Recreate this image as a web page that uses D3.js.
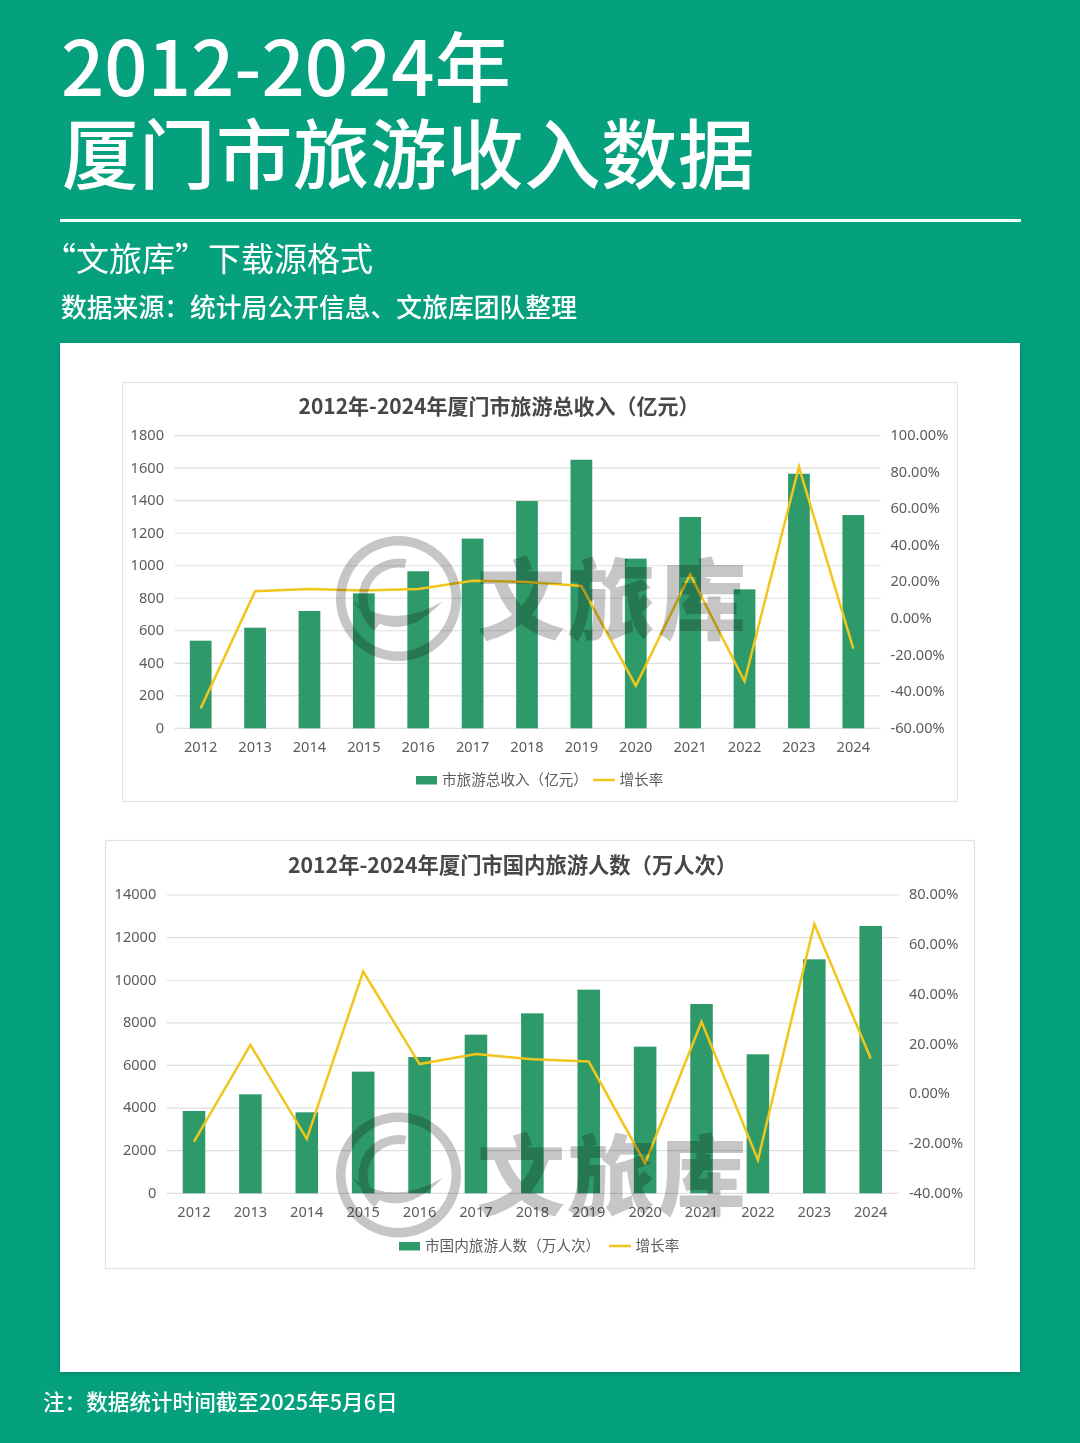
<!DOCTYPE html>
<html lang="zh">
<head>
<meta charset="utf-8">
<script src="https://cdn.jsdelivr.net/npm/d3@7/dist/d3.min.js"></script>
<style>
html,body{margin:0;padding:0;background:#05a07e;}
svg{display:block;font-family:"Noto Sans CJK SC","Noto Sans",sans-serif;}
</style>
</head>
<body>
<svg id="page" width="1080" height="1443"></svg>
<script>
const years = ["2012","2013","2014","2015","2016","2017","2018","2019","2020","2021","2022","2023","2024"];

const revenue = [539,619,722,830,966,1167,1398,1652,1044,1300,855,1566,1312];
const revenueGrowth = [-49.1,14.9,16.2,15.4,16.2,20.7,20.0,17.8,-36.7,24.2,-34.3,83.0,-16.4];
const revenueTicks = [0,200,400,600,800,1000,1200,1400,1600,1800];
const revenueGrowthTicks = [-60,-40,-20,0,20,40,60,80,100];

const visitors = [3864,4646,3801,5710,6398,7446,8447,9558,6883,8885,6523,10981,12545];
const visitorsGrowth = [-19.2,19.7,-18.1,49.2,12.0,16.0,13.9,13.0,-27.9,29.0,-26.6,68.3,14.2];
const visitorsTicks = [0,2000,4000,6000,8000,10000,12000,14000];
const visitorsGrowthTicks = [-40,-20,0,20,40,60,80];

const titleLines = ["2012-2024年","厦门市旅游收入数据"];
const subtitle = "“文旅库”下载源格式";
const sourceText = "数据来源：统计局公开信息、文旅库团队整理";
const noteText = "注：数据统计时间截至2025年5月6日";
const watermarkText = "文旅库";

const BAR = "#2f9a69", LINE = "#f1c51c", TEXT = "#5c5c5c", GRID = "#dfdfdf";
const svg = d3.select("#page");

svg.append("rect").attr("width",1080).attr("height",1443).attr("fill","#05a07e");

svg.selectAll(".t").data(titleLines).join("text")
  .attr("x",(d,i)=>i?62:61).attr("y",(d,i)=>i?183:96)
  .attr("font-size",(d,i)=>i?76.5:76).attr("letter-spacing",(d,i)=>i?0.5:0)
  .attr("font-weight",500).attr("fill","#fff").text(d=>d);

svg.append("rect").attr("x",60).attr("y",219).attr("width",961).attr("height",3).attr("fill","#f2fffb");
svg.append("text").attr("x",43).attr("y",271).attr("font-size",33).attr("font-weight",400).attr("fill","#fff").text(subtitle);
svg.append("text").attr("x",61).attr("y",317).attr("font-size",25.8).attr("font-weight",500).attr("fill","#fff").text(sourceText);
svg.append("text").attr("x",43).attr("y",1410).attr("font-size",21.6).attr("font-weight",500).attr("fill","#fff").text(noteText);

svg.append("rect").attr("x",60).attr("y",343).attr("width",960).attr("height",1029)
  .attr("fill","#fff").style("filter","drop-shadow(0 1px 2px rgba(0,60,50,.35))");

function drawChart(cfg){
  const g = svg.append("g");
  g.append("rect").attr("x",cfg.frame[0]+.5).attr("y",cfg.frame[1]+.5)
    .attr("width",cfg.frame[2]-cfg.frame[0]).attr("height",cfg.frame[3]-cfg.frame[1])
    .attr("fill","#fff").attr("stroke","#e2e2e2").attr("stroke-width",1.2);
  g.append("text").attr("x",cfg.titleX).attr("y",cfg.titleY).attr("text-anchor","middle")
    .attr("font-size",cfg.titleSize).attr("font-weight",700).attr("fill","#474747").text(cfg.title);

  const x = d3.scaleBand().domain(years).range([cfg.x0,cfg.x1]).paddingInner(0.6).paddingOuter(0.3);
  const y = d3.scaleLinear().domain(d3.extent(cfg.ticks)).range([cfg.yB,cfg.yT]);
  const y2 = d3.scaleLinear().domain(d3.extent(cfg.rTicks)).range([cfg.yB,cfg.yT]);

  g.append("g").selectAll("line").data(cfg.ticks).join("line")
    .attr("x1",cfg.x0+1).attr("x2",cfg.x1).attr("y1",d=>y(d)).attr("y2",d=>y(d))
    .attr("stroke",GRID).attr("stroke-width",1.2);

  const style = a => {
    a.select(".domain").remove();
    a.selectAll(".tick line").remove();
    a.selectAll("text").attr("font-size",14.6).attr("fill",TEXT).attr("font-family",'"Noto Sans","Noto Sans CJK SC",sans-serif');
  };
  g.append("g").attr("transform",`translate(${cfg.x0-9.5},-0.8)`)
    .call(d3.axisLeft(y).tickValues(cfg.ticks).tickFormat(d=>String(d)).tickSize(0).tickPadding(0)).call(style);
  g.append("g").attr("transform",`translate(${cfg.x1+10},-0.8)`)
    .call(d3.axisRight(y2).tickValues(cfg.rTicks).tickFormat(d=>d.toFixed(2)+"%").tickSize(0).tickPadding(0)).call(style);
  g.append("g").attr("transform",`translate(0,${cfg.yB+20})`)
    .call(d3.axisBottom(x).tickSize(0).tickPadding(0)).call(style)
    .selectAll("text").attr("dy","0.71em").attr("y",-7);

  g.append("g").selectAll("rect").data(cfg.values).join("rect")
    .attr("x",(d,i)=>x(years[i])).attr("width",x.bandwidth())
    .attr("y",d=>y(d)).attr("height",d=>y(0)-y(d)).attr("fill",BAR);

  const line = d3.line().x((d,i)=>x(years[i])+x.bandwidth()/2).y(d=>y2(d));
  g.append("path").datum(cfg.growth).attr("d",line).attr("fill","none")
    .attr("stroke",LINE).attr("stroke-width",2.5).attr("stroke-linejoin","miter");

  const L = cfg.legend;
  g.append("rect").attr("x",L.x).attr("y",L.y-4).attr("width",21).attr("height",8.5).attr("fill",BAR);
  g.append("text").attr("x",L.x+26).attr("y",L.y+4.8).attr("font-size",14.6).attr("fill",TEXT).text(cfg.name);
  g.append("line").attr("x1",L.x2).attr("x2",L.x2+22).attr("y1",L.y).attr("y2",L.y).attr("stroke",LINE).attr("stroke-width",2.5);
  g.append("text").attr("x",L.x2+26.5).attr("y",L.y+4.8).attr("font-size",14.6).attr("fill",TEXT).text("增长率");
}

drawChart({
  frame:[122,382,957,801], title:"2012年-2024年厦门市旅游总收入（亿元）", titleX:499, titleY:414, titleSize:21,
  x0:173.5, x1:880.5, yT:435.7, yB:728.3,
  values:revenue, growth:revenueGrowth, ticks:revenueTicks, rTicks:revenueGrowthTicks,
  name:"市旅游总收入（亿元）", legend:{x:416,x2:593,y:780}
});
drawChart({
  frame:[105,840,974,1268], title:"2012年-2024年厦门市国内旅游人数（万人次）", titleX:512.5, titleY:873, titleSize:21.3,
  x0:165.8, x1:898.9, yT:895, yB:1193.3,
  values:visitors, growth:visitorsGrowth, ticks:visitorsTicks, rTicks:visitorsGrowthTicks,
  name:"市国内旅游人数（万人次）", legend:{x:399,x2:609,y:1246}
});

function watermark(cx,cy,tx,ty){
  const g = svg.append("g").style("mix-blend-mode","multiply");
  const arc = d3.arc();
  const t = `translate(${cx},${cy})`;
  g.append("path").attr("transform",t).attr("fill","#c6c6c6")
    .attr("d",arc({innerRadius:53,outerRadius:62.5,startAngle:0,endAngle:2*Math.PI}));
  g.append("path").attr("transform",t).attr("fill","#c6c6c6")
    .attr("d",arc({innerRadius:31,outerRadius:40,startAngle:-2.5,endAngle:0.2}));
  g.append("path").attr("transform",t).attr("fill","#c6c6c6")
    .attr("d","M-46,3Q-5,54 44,3Q-5,32 -46,3Z");
  g.append("text").attr("x",tx).attr("y",ty).attr("font-size",88).attr("font-weight",900)
    .attr("letter-spacing",2.5).attr("fill","#c6c6c6").text(watermarkText);
}
watermark(398.5,598.5,477,632);
watermark(398.5,1175,477,1208);
</script>
</body>
</html>
